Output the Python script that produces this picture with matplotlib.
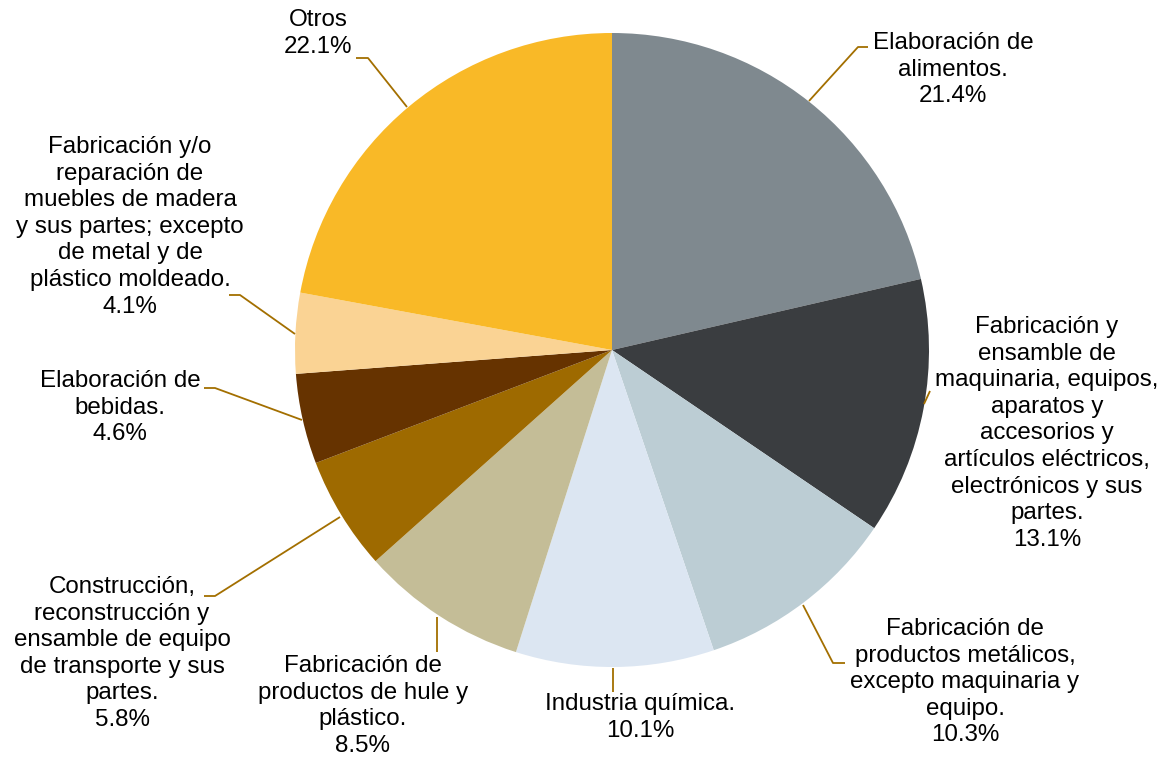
import matplotlib
matplotlib.use('Agg')
import matplotlib.pyplot as plt

plt.rcParams['font.family'] = ['Liberation Sans', 'DejaVu Sans']

# datos del gráfico (porcentaje por rama de actividad)
labels = ['Elaboración de\nalimentos.',
          'Fabricación y\nensamble de\nmaquinaria, equipos,\naparatos y\naccesorios y\nartículos eléctricos,\nelectrónicos y sus\npartes.',
          'Fabricación de\nproductos metálicos,\nexcepto maquinaria y\nequipo.',
          'Industria química.',
          'Fabricación de\nproductos de hule y\nplástico.',
          'Construcción,\nreconstrucción y\nensamble de equipo\nde transporte y sus\npartes.',
          'Elaboración de\nbebidas.',
          'Fabricación y/o\nreparación de\nmuebles de madera\ny sus partes; excepto\nde metal y de\nplástico moldeado.',
          'Otros']
values = [21.4, 13.1, 10.3, 10.1, 8.5, 5.8, 4.6, 4.1, 22.1]
colors = ['#7f898f', '#3a3d40', '#bccdd4', '#dce6f2', '#c4bd97',
          '#9e6a00', '#663300', '#fad394', '#f9b927']

W, H = 1159, 761
fig = plt.figure(figsize=(W / 100, H / 100), dpi=100)
ax = fig.add_axes([0, 0, 1, 1])

def py(y):
    # coordenada de pixel (desde arriba) a coordenada de datos
    return H - y

ax.pie(values, colors=colors, startangle=90, counterclock=False,
       center=(612, py(350)), radius=317, frame=True,
       wedgeprops=dict(linewidth=0))
ax.set_xlim(0, W)
ax.set_ylim(0, H)
ax.set_aspect('equal')
ax.axis('off')

# posición del texto (centro x, y de la primera línea) y línea guía
text_pos = [(953, 45), (1047, 329), (965, 631), (640, 706), (363, 668),
            (122, 589), (120, 383), (130, 149), (318, 22)]
leaders = [[(809, 101), (858, 47), (868, 47)],
           [(924, 404), (930, 391)],
           [(803, 605), (833, 663), (845, 663)],
           [(613, 668), (613, 692)],
           [(437, 617), (437, 652)],
           [(340, 517), (215, 596), (204, 596)],
           [(302, 420), (215, 388), (204, 388)],
           [(295, 334), (240, 295), (229, 295)],
           [(407, 107), (368, 58), (356, 58)]]

for lab, v, (tx, ty), pts in zip(labels, values, text_pos, leaders):
    txt = lab + '\n' + f'{v:.1f}%'
    ax.text(tx, py(ty - 13), txt, ha='center', va='top',
            fontsize=17.4, linespacing=1.27, color='#000000')
    ax.plot([p[0] for p in pts], [py(p[1]) for p in pts],
            color='#a36f00', lw=1.3, solid_capstyle='butt')

fig.savefig('out.png', dpi=100)
